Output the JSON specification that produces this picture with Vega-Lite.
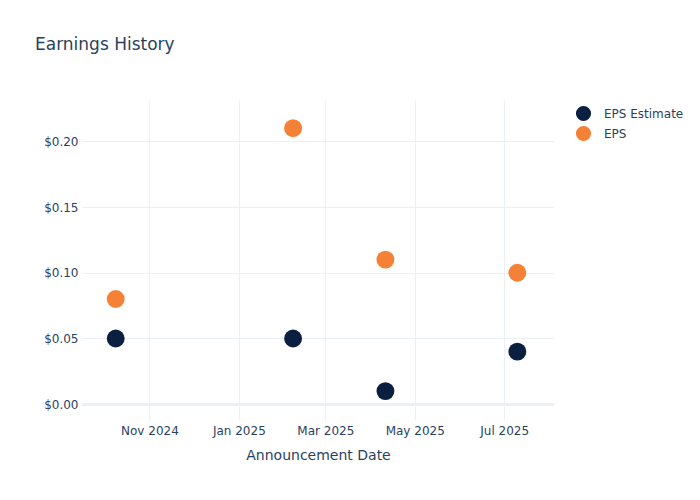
{
  "$schema": "https://vega.github.io/schema/vega-lite/v6.json",
  "width": 472,
  "height": 320,
  "autosize": {"type": "none"},
  "padding": {"left": 82, "top": 100, "right": 146, "bottom": 80},
  "background": "white",
  "title": {
    "text": "Earnings History",
    "anchor": "start",
    "frame": "group",
    "dx": -47,
    "offset": 46,
    "fontSize": 17,
    "fontWeight": "normal",
    "font": "DejaVu Sans",
    "color": "#2a3f5f"
  },
  "config": {
    "view": {"stroke": null},
    "font": "DejaVu Sans"
  },
  "data": {
    "values": [
      {"date": "2024-10-09", "series": "EPS Estimate", "value": 0.05},
      {"date": "2025-02-07", "series": "EPS Estimate", "value": 0.05},
      {"date": "2025-04-11", "series": "EPS Estimate", "value": 0.01},
      {"date": "2025-07-10", "series": "EPS Estimate", "value": 0.04},
      {"date": "2024-10-09", "series": "EPS", "value": 0.08},
      {"date": "2025-02-07", "series": "EPS", "value": 0.21},
      {"date": "2025-04-11", "series": "EPS", "value": 0.11},
      {"date": "2025-07-10", "series": "EPS", "value": 0.10}
    ]
  },
  "layer": [
    {
      "mark": {"type": "rule", "stroke": "#ebf0f8", "strokeWidth": 2},
      "encoding": {"y": {"datum": 0, "type": "quantitative"}}
    },
    {
      "mark": {"type": "circle", "opacity": 1, "size": 320},
      "encoding": {
        "x": {
          "field": "date",
          "type": "temporal",
          "title": "Announcement Date",
          "scale": {"type": "utc", "domain": ["2024-09-16", "2025-08-04"]},
          "axis": {
            "tickCount": {"interval": "month", "step": 2},
            "format": "%b %Y",
            "grid": true,
            "gridColor": "#ebf0f8",
            "gridWidth": 1,
            "domain": false,
            "ticks": false,
            "labelPadding": 5,
            "labelFontSize": 12,
            "labelColor": "#2a3f5f",
            "labelFont": "DejaVu Sans",
            "titleFontSize": 14,
            "titleFontWeight": "normal",
            "titleColor": "#2a3f5f",
            "titleFont": "DejaVu Sans",
            "titlePadding": 12
          }
        },
        "y": {
          "field": "value",
          "type": "quantitative",
          "title": null,
          "scale": {"domain": [-0.012, 0.2314], "nice": false, "zero": false},
          "axis": {
            "values": [0, 0.05, 0.1, 0.15, 0.2],
            "format": "$.2f",
            "grid": true,
            "gridColor": "#ebf0f8",
            "gridWidth": 1,
            "domain": false,
            "ticks": false,
            "labelPadding": 4,
            "labelFontSize": 12,
            "labelColor": "#2a3f5f",
            "labelFont": "DejaVu Sans"
          }
        },
        "color": {
          "field": "series",
          "type": "nominal",
          "scale": {"domain": ["EPS Estimate", "EPS"], "range": ["#0b1f41", "#f58137"]},
          "legend": {
            "title": null,
            "orient": "none",
            "legendX": 493,
            "legendY": 5,
            "symbolType": "circle",
            "symbolSize": 230,
            "symbolOpacity": 1,
            "labelFontSize": 12,
            "labelColor": "#2a3f5f",
            "labelFont": "DejaVu Sans",
            "rowPadding": 3,
            "labelOffset": 12
          }
        }
      }
    }
  ]
}
